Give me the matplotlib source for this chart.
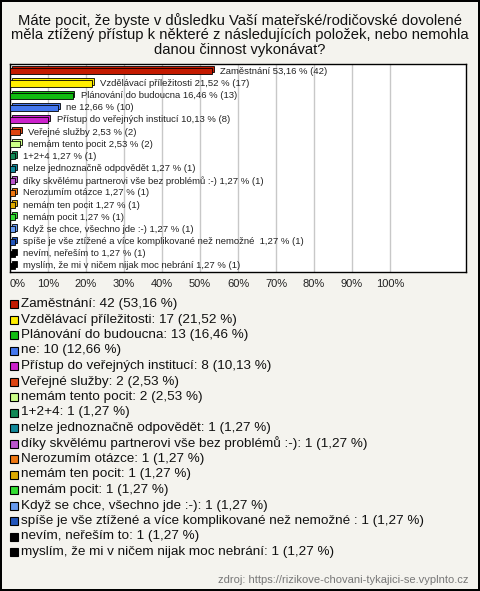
import matplotlib.pyplot as plt
from matplotlib.patches import Rectangle

plt.rcParams['font.family'] = ['Liberation Sans', 'DejaVu Sans']

labels = ['Zaměstnání', 'Vzdělávací příležitosti', 'Plánování do budoucna', 'ne',
          'Přístup do veřejných institucí', 'Veřejné služby', 'nemám tento pocit',
          '1+2+4', 'nelze jednoznačně odpovědět', 'díky skvělému partnerovi vše bez problémů :-)',
          'Nerozumím otázce', 'nemám ten pocit', 'nemám pocit', 'Když se chce, všechno jde :-)',
          'spíše je vše ztížené a více komplikované než nemožné ', 'nevím, neřeším to',
          'myslím, že mi v ničem nijak moc nebrání']
counts = [42, 17, 13, 10, 8, 2, 2, 1, 1, 1, 1, 1, 1, 1, 1, 1, 1]
percents = [53.16, 21.52, 16.46, 12.66, 10.13, 2.53, 2.53, 1.27, 1.27, 1.27,
            1.27, 1.27, 1.27, 1.27, 1.27, 1.27, 1.27]
colors = ['#c41a00', '#ffee00', '#11bb11', '#4477ee', '#cc22cc', '#dd4411', '#ccff88',
          '#118855', '#118899', '#bb55cc', '#ee7711', '#ddaa00', '#33dd33', '#6699ee',
          '#2255bb', '#000000', '#000000']
ticks = [0, 10, 20, 30, 40, 50, 60, 70, 80, 90, 100]

bg = '#f4f3ee'
W, H = 480, 591
fig = plt.figure(figsize=(W / 100, H / 100), dpi=100, facecolor=bg)
fig.patch.set_edgecolor('black')
fig.patch.set_linewidth(1.5)

fig.text(0.5, 1 - 35 / H,
         'Máte pocit, že byste v důsledku Vaší mateřské/rodičovské dovolené\n'
         'měla ztížený přístup k některé z následujících položek, nebo nemohla\n'
         'danou činnost vykonávat?',
         ha='center', va='center', fontsize=10.6, color='#111111', linespacing=1.05)

ax = fig.add_axes([10 / W, 1 - 272 / H, 456 / W, 208 / H])
ax.set_facecolor('white')
n = len(labels)
y = list(range(n))
ax.set_xlim(0, 120)
ax.set_ylim(n - 0.5, -0.6)

for t in ticks:
    ax.axvline(t, color='#c8c8c8', lw=1, zorder=0)

# 3D-ish depth behind each bar
ax.barh([v - 0.16 for v in y], percents, left=0.5, height=0.5, color=colors,
        edgecolor='black', lw=0.6, zorder=2)
ax.barh(y, percents, height=0.5, color=colors, edgecolor='black', lw=0.6, zorder=3)

for i in range(n):
    p = f'{percents[i]:.2f}'.replace('.', ',')
    ax.text(percents[i] + 2.2, y[i], f'{labels[i]} {p} % ({counts[i]})',
            va='center', ha='left', fontsize=6.8, color='#222222', zorder=4)

ax.set_yticks([])
ax.set_xticks(ticks)
ax.set_xticklabels([f'{t}%' for t in ticks], fontsize=8, color='#222222')
ax.get_xticklabels()[0].set_ha('left')
ax.tick_params(axis='x', length=0, pad=5)
for s in ax.spines.values():
    s.set_color('black')
    s.set_linewidth(1)

# legend below
y0 = 304
step = 15.5
for i in range(n):
    yy = y0 + i * step
    fig.add_artist(Rectangle((10 / W, 1 - (yy + 4) / H), 8 / W, 8 / H,
                             transform=fig.transFigure, facecolor=colors[i],
                             edgecolor='black', lw=0.8))
    p = f'{percents[i]:.2f}'.replace('.', ',')
    fig.text(21 / W, 1 - yy / H, f'{labels[i]}: {counts[i]} ({p} %)',
             ha='left', va='center', fontsize=9.7, color='#111111')

fig.text(469 / W, 1 - 580 / H, 'zdroj: https://rizikove-chovani-tykajici-se.vyplnto.cz',
         ha='right', va='center', fontsize=8, color='#777777')

fig.savefig('out.png', dpi=100, facecolor=bg, edgecolor='black')
